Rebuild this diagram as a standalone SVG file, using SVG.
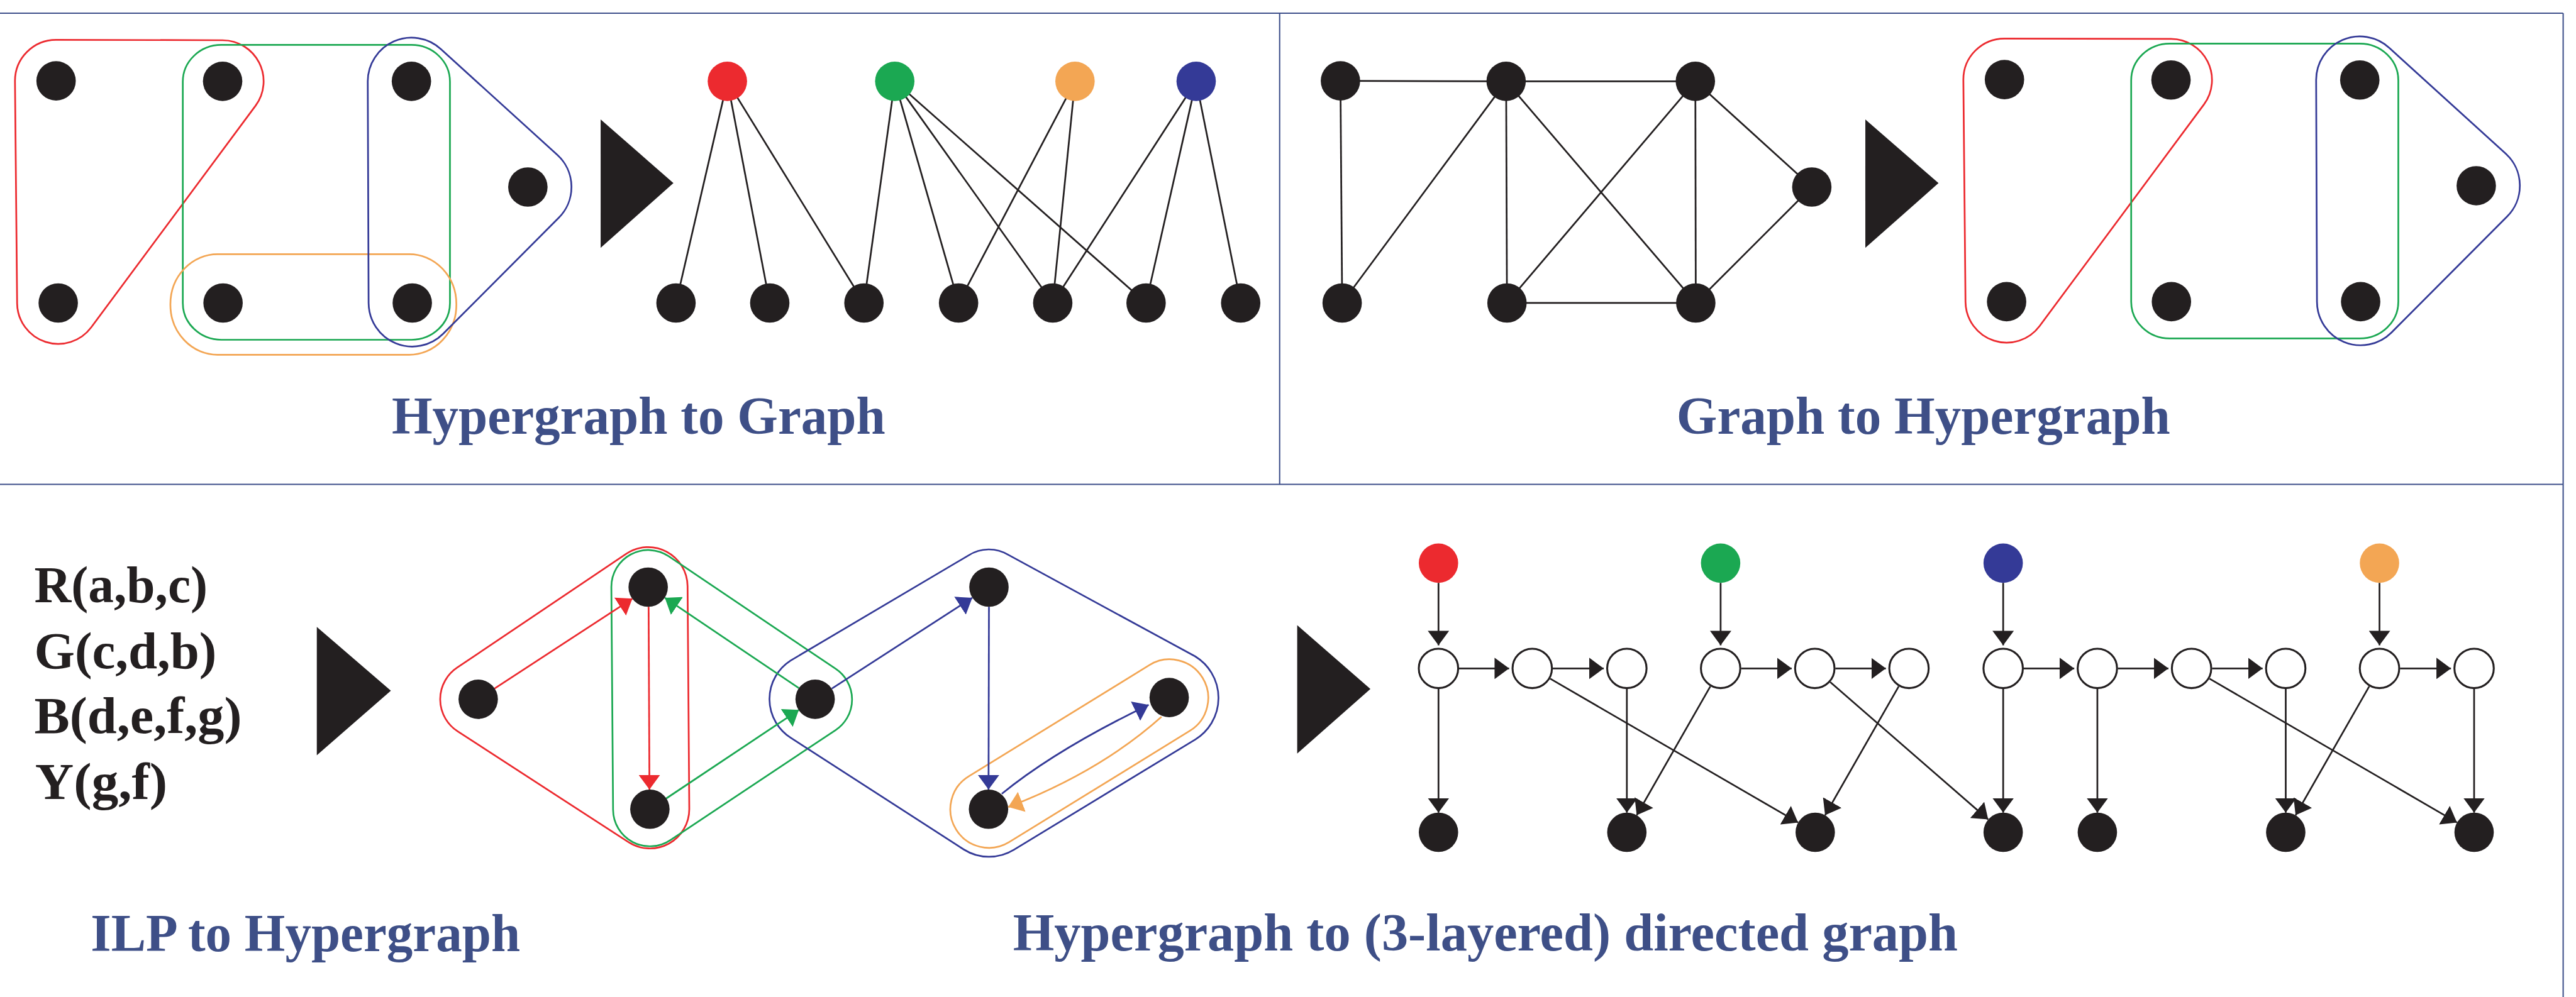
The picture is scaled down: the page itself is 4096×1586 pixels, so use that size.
<svg xmlns="http://www.w3.org/2000/svg" width="4096" height="1586" viewBox="0 0 4096 1586">
  <style>
    .frame { fill: none; stroke: #3d4f8a; stroke-width: 3; }
    .dot { fill: #231f20; }
    .hollow { fill: #ffffff; stroke: #231f20; stroke-width: 4.5; }
    .edge { fill: none; stroke: #231f20; stroke-width: 4; }
    .hull { fill: none; stroke-width: 4; }
    .red { stroke: #ec2a2f; }
    .green { stroke: #1ba852; }
    .blue { stroke: #343a97; }
    .orange { stroke: #f3a654; }
    .fred { fill: #ec2a2f; }
    .fgreen { fill: #1ba852; }
    .fblue { fill: #343a97; }
    .forange { fill: #f3a654; }
    .big { fill: #231f20; }
    .title { font-family: "Liberation Serif", "Times New Roman", serif; font-weight: bold; font-size: 125px; fill: #3e4f87; }
    .ilp { font-family: "Liberation Serif", "Times New Roman", serif; font-weight: bold; font-size: 120px; fill: #231f20; }
    .ah { fill: none; }
  </style>
  <defs>
    <marker id="ah-k" viewBox="0 0 34 50" refX="34" refY="25" markerWidth="34" markerHeight="50" markerUnits="userSpaceOnUse" orient="auto"><path d="M0,0 L34,25 L0,50 Z" fill="#231f20"/></marker>
    <marker id="ah-r" viewBox="0 0 34 50" refX="34" refY="25" markerWidth="34" markerHeight="50" markerUnits="userSpaceOnUse" orient="auto"><path d="M0,0 L34,25 L0,50 Z" fill="#ec2a2f"/></marker>
    <marker id="ah-g" viewBox="0 0 34 50" refX="34" refY="25" markerWidth="34" markerHeight="50" markerUnits="userSpaceOnUse" orient="auto"><path d="M0,0 L34,25 L0,50 Z" fill="#1ba852"/></marker>
    <marker id="ah-b" viewBox="0 0 34 50" refX="34" refY="25" markerWidth="34" markerHeight="50" markerUnits="userSpaceOnUse" orient="auto"><path d="M0,0 L34,25 L0,50 Z" fill="#343a97"/></marker>
    <marker id="ah-o" viewBox="0 0 34 50" refX="34" refY="25" markerWidth="34" markerHeight="50" markerUnits="userSpaceOnUse" orient="auto"><path d="M0,0 L34,25 L0,50 Z" fill="#f3a654"/></marker>
  </defs>
  <rect x="0" y="0" width="4096" height="1586" fill="#ffffff"/>
  <g transform="scale(0.680738)">
    <!-- panel frame -->
    <g id="frame" class="frame">
      <line x1="0" y1="31" x2="5987" y2="31"/>
      <line x1="0" y1="1132" x2="5987" y2="1132"/>
      <line x1="2989" y1="31" x2="2989" y2="1132"/>
      <line x1="5987" y1="31" x2="5987" y2="2330"/>
    </g>

    <!-- transformation arrows -->
    <g id="transform-arrows">
      <polygon class="big" points="1403,279 1573,428 1403,579"/>
      <polygon class="big" points="4357,279 4528,428 4357,579"/>
      <polygon class="big" points="740,1465 913,1614 740,1765"/>
      <polygon class="big" points="3030,1461 3201,1610 3030,1761"/>
    </g>

    <!-- ===== Hypergraph (top left) ===== -->
    <g id="hg1-edges">
      <path class="hull red" d="M35,190 A96,96 0 0 1 131,93 L520,94 A96,96 0 0 1 597,247 L213,765 A96,96 0 0 1 40,709 Z"/>
      <rect class="hull green" x="427" y="105" width="624" height="689" rx="90" ry="86"/>
      <rect class="hull orange" x="398" y="594" width="668" height="235" rx="110" ry="117"/>
      <path class="hull blue" d="M859,190 A102,102 0 0 1 1030,115 L1302,362 A102,102 0 0 1 1305,509 L1035,780 A102,102 0 0 1 861,708 Z"/>
    </g>
    <g id="hg1-A"><circle class="dot" cx="131" cy="189" r="46"/></g>
    <g id="hg1-B"><circle class="dot" cx="520" cy="190" r="46"/></g>
    <g id="hg1-C"><circle class="dot" cx="961" cy="190" r="46"/></g>
    <g id="hg1-D"><circle class="dot" cx="1233" cy="437" r="46"/></g>
    <g id="hg1-E"><circle class="dot" cx="136" cy="708" r="46"/></g>
    <g id="hg1-F"><circle class="dot" cx="521" cy="708" r="46"/></g>
    <g id="hg1-G"><circle class="dot" cx="963" cy="708" r="46"/></g>

    <!-- ===== Bipartite graph ===== -->
    <g id="bip-edges" class="edge">
      <line x1="1699" y1="190" x2="1579" y2="708"/>
      <line x1="1699" y1="190" x2="1798" y2="708"/>
      <line x1="1699" y1="190" x2="2018" y2="708"/>
      <line x1="2090" y1="190" x2="2018" y2="708"/>
      <line x1="2090" y1="190" x2="2239" y2="708"/>
      <line x1="2090" y1="190" x2="2459" y2="708"/>
      <line x1="2090" y1="190" x2="2677" y2="708"/>
      <line x1="2511" y1="190" x2="2239" y2="708"/>
      <line x1="2511" y1="190" x2="2459" y2="708"/>
      <line x1="2794" y1="190" x2="2459" y2="708"/>
      <line x1="2794" y1="190" x2="2677" y2="708"/>
      <line x1="2794" y1="190" x2="2898" y2="708"/>
    </g>
    <g id="bip-red"><circle class="fred" cx="1699" cy="190" r="46"/></g>
    <g id="bip-green"><circle class="fgreen" cx="2090" cy="190" r="46"/></g>
    <g id="bip-orange"><circle class="forange" cx="2511" cy="190" r="46"/></g>
    <g id="bip-blue"><circle class="fblue" cx="2794" cy="190" r="46"/></g>
    <g id="bip-1"><circle class="dot" cx="1579" cy="708" r="46"/></g>
    <g id="bip-2"><circle class="dot" cx="1798" cy="708" r="46"/></g>
    <g id="bip-3"><circle class="dot" cx="2018" cy="708" r="46"/></g>
    <g id="bip-4"><circle class="dot" cx="2239" cy="708" r="46"/></g>
    <g id="bip-5"><circle class="dot" cx="2459" cy="708" r="46"/></g>
    <g id="bip-6"><circle class="dot" cx="2677" cy="708" r="46"/></g>
    <g id="bip-7"><circle class="dot" cx="2898" cy="708" r="46"/></g>

    <text class="title" x="915" y="1014" textLength="1153" lengthAdjust="spacingAndGlyphs">Hypergraph to Graph</text>

    <!-- ===== Graph (top right) ===== -->
    <g id="gr-edges" class="edge">
      <line x1="3131" y1="189" x2="3518" y2="190"/>
      <line x1="3518" y1="190" x2="3960" y2="190"/>
      <line x1="3131" y1="189" x2="3135" y2="708"/>
      <line x1="3135" y1="708" x2="3518" y2="190"/>
      <line x1="3518" y1="190" x2="3520" y2="708"/>
      <line x1="3518" y1="190" x2="3961" y2="708"/>
      <line x1="3960" y1="190" x2="3520" y2="708"/>
      <line x1="3960" y1="190" x2="3961" y2="708"/>
      <line x1="3960" y1="190" x2="4232" y2="437"/>
      <line x1="4232" y1="437" x2="3961" y2="708"/>
      <line x1="3520" y1="708" x2="3961" y2="708"/>
    </g>
    <g id="gr-a"><circle class="dot" cx="3131" cy="189" r="46"/></g>
    <g id="gr-b"><circle class="dot" cx="3518" cy="190" r="46"/></g>
    <g id="gr-c"><circle class="dot" cx="3960" cy="190" r="46"/></g>
    <g id="gr-d"><circle class="dot" cx="4232" cy="437" r="46"/></g>
    <g id="gr-e"><circle class="dot" cx="3135" cy="708" r="46"/></g>
    <g id="gr-f"><circle class="dot" cx="3520" cy="708" r="46"/></g>
    <g id="gr-g"><circle class="dot" cx="3961" cy="708" r="46"/></g>

    <!-- ===== Hypergraph (top right) ===== -->
    <g transform="translate(4551,-3)">
      <g id="hg2-edges">
        <path class="hull red" d="M35,190 A96,96 0 0 1 131,93 L520,94 A96,96 0 0 1 597,247 L213,765 A96,96 0 0 1 40,709 Z"/>
        <rect class="hull green" x="427" y="105" width="624" height="689" rx="90" ry="86"/>
        <path class="hull blue" d="M859,190 A102,102 0 0 1 1030,115 L1302,362 A102,102 0 0 1 1305,509 L1035,780 A102,102 0 0 1 861,708 Z"/>
      </g>
      <g id="hg2-A"><circle class="dot" cx="131" cy="189" r="46"/></g>
      <g id="hg2-B"><circle class="dot" cx="520" cy="190" r="46"/></g>
      <g id="hg2-C"><circle class="dot" cx="961" cy="190" r="46"/></g>
      <g id="hg2-D"><circle class="dot" cx="1233" cy="437" r="46"/></g>
      <g id="hg2-E"><circle class="dot" cx="136" cy="708" r="46"/></g>
      <g id="hg2-F"><circle class="dot" cx="521" cy="708" r="46"/></g>
      <g id="hg2-G"><circle class="dot" cx="963" cy="708" r="46"/></g>
    </g>

    <text class="title" x="3916" y="1014" textLength="1153" lengthAdjust="spacingAndGlyphs">Graph to Hypergraph</text>

    <!-- ===== ILP constraints ===== -->
    <g id="ilp">
      <text class="ilp" x="80" y="1407" textLength="405" lengthAdjust="spacingAndGlyphs">R(a,b,c)</text>
      <text class="ilp" x="80" y="1561" textLength="426" lengthAdjust="spacingAndGlyphs">G(c,d,b)</text>
      <text class="ilp" x="80" y="1713" textLength="485" lengthAdjust="spacingAndGlyphs">B(d,e,f,g)</text>
      <text class="ilp" x="82" y="1867" textLength="309" lengthAdjust="spacingAndGlyphs">Y(g,f)</text>
    </g>

    <!-- ===== Directed hypergraph ===== -->
    <g id="dh-hulls">
      <path class="hull red" d="M1068,1560 L1463,1294 A92,92 0 0 1 1606,1370 L1610,1890 A92,92 0 0 1 1468,1968 L1069,1709 A89,89 0 0 1 1068,1560 Z"/>
      <path class="hull green" d="M1428,1372 A86,86 0 0 1 1562,1300 L1952,1563 A86,86 0 0 1 1952,1706 L1566,1963 A86,86 0 0 1 1432,1892 Z"/>
      <path class="hull blue" d="M2262,1298 A88,88 0 0 1 2356,1297 L2792,1534 A114,114 0 0 1 2792,1728 L2368,1986 A111,111 0 0 1 2251,1985 L1847,1724 A107,107 0 0 1 1846,1544 Z"/>
      <path class="hull orange" d="M2263,1814 L2685,1554 A90,90 0 0 1 2779,1708 L2357,1968 A90,90 0 0 1 2263,1814 Z"/>
    </g>
    <g id="dh-edges">
      <path class="edge red" marker-end="url(#ah-r)" d="M1155,1609 L1477,1399"/>
      <path class="edge red" marker-end="url(#ah-r)" d="M1515,1418 L1517,1845"/>
      <path class="edge green" marker-end="url(#ah-g)" d="M1556,1866 L1866,1659"/>
      <path class="edge green" marker-end="url(#ah-g)" d="M1866,1608 L1553,1397"/>
      <path class="edge blue" marker-end="url(#ah-b)" d="M1943,1609 L2271,1397"/>
      <path class="edge blue" marker-end="url(#ah-b)" d="M2310,1418 L2309,1845"/>
      <path class="edge blue" marker-end="url(#ah-b)" d="M2340,1855 Q2466,1752 2683,1647"/>
      <path class="edge orange" marker-end="url(#ah-o)" d="M2713,1675 Q2570,1803 2355,1886"/>
    </g>
    <g id="dh-a"><circle class="dot" cx="1117" cy="1634" r="46"/></g>
    <g id="dh-b"><circle class="dot" cx="1514" cy="1372" r="46"/></g>
    <g id="dh-c"><circle class="dot" cx="1518" cy="1891" r="46"/></g>
    <g id="dh-d"><circle class="dot" cx="1904" cy="1634" r="46"/></g>
    <g id="dh-e"><circle class="dot" cx="2310" cy="1372" r="46"/></g>
    <g id="dh-f"><circle class="dot" cx="2309" cy="1891" r="46"/></g>
    <g id="dh-g"><circle class="dot" cx="2731" cy="1630" r="46"/></g>

    <text class="title" x="212" y="2222" textLength="1003" lengthAdjust="spacingAndGlyphs">ILP to Hypergraph</text>

    <!-- ===== 3-layered directed graph ===== -->
    <g id="lg-edges" class="edge" marker-end="url(#ah-k)">
      <!-- hyperedge to first occurrence -->
      <line x1="3360" y1="1362" x2="3360" y2="1508"/>
      <line x1="4019" y1="1362" x2="4019" y2="1508"/>
      <line x1="4679" y1="1362" x2="4679" y2="1508"/>
      <line x1="5558" y1="1362" x2="5558" y2="1508"/>
      <!-- occurrence chains -->
      <line x1="3408" y1="1562" x2="3525" y2="1562"/>
      <line x1="3627" y1="1562" x2="3746" y2="1562"/>
      <line x1="4067" y1="1562" x2="4185" y2="1562"/>
      <line x1="4287" y1="1562" x2="4405" y2="1562"/>
      <line x1="4727" y1="1562" x2="4845" y2="1562"/>
      <line x1="4947" y1="1562" x2="5065" y2="1562"/>
      <line x1="5167" y1="1562" x2="5285" y2="1562"/>
      <line x1="5606" y1="1562" x2="5725" y2="1562"/>
      <!-- occurrence to variable -->
      <line x1="3360" y1="1610" x2="3360" y2="1899"/>
      <line x1="3800" y1="1610" x2="3800" y2="1899"/>
      <line x1="4679" y1="1610" x2="4679" y2="1899"/>
      <line x1="4899" y1="1610" x2="4899" y2="1899"/>
      <line x1="5339" y1="1610" x2="5339" y2="1899"/>
      <line x1="5779" y1="1610" x2="5779" y2="1899"/>
      <line x1="3621" y1="1586" x2="4200" y2="1922"/>
      <line x1="3995" y1="1604" x2="3823" y2="1905"/>
      <line x1="4275" y1="1594" x2="4644" y2="1915"/>
      <line x1="4435" y1="1604" x2="4263" y2="1905"/>
      <line x1="5161" y1="1586" x2="5739" y2="1922"/>
      <line x1="5534" y1="1604" x2="5362" y2="1905"/>
    </g>
    <g id="lg-top-red"><circle class="fred" cx="3360" cy="1316" r="46"/></g>
    <g id="lg-top-green"><circle class="fgreen" cx="4019" cy="1316" r="46"/></g>
    <g id="lg-top-blue"><circle class="fblue" cx="4679" cy="1316" r="46"/></g>
    <g id="lg-top-orange"><circle class="forange" cx="5558" cy="1316" r="46"/></g>
    <g id="lg-mid-1"><circle class="hollow" cx="3360" cy="1562" r="46"/></g>
    <g id="lg-mid-2"><circle class="hollow" cx="3579" cy="1562" r="46"/></g>
    <g id="lg-mid-3"><circle class="hollow" cx="3800" cy="1562" r="46"/></g>
    <g id="lg-mid-4"><circle class="hollow" cx="4019" cy="1562" r="46"/></g>
    <g id="lg-mid-5"><circle class="hollow" cx="4239" cy="1562" r="46"/></g>
    <g id="lg-mid-6"><circle class="hollow" cx="4459" cy="1562" r="46"/></g>
    <g id="lg-mid-7"><circle class="hollow" cx="4679" cy="1562" r="46"/></g>
    <g id="lg-mid-8"><circle class="hollow" cx="4899" cy="1562" r="46"/></g>
    <g id="lg-mid-9"><circle class="hollow" cx="5119" cy="1562" r="46"/></g>
    <g id="lg-mid-10"><circle class="hollow" cx="5339" cy="1562" r="46"/></g>
    <g id="lg-mid-11"><circle class="hollow" cx="5558" cy="1562" r="46"/></g>
    <g id="lg-mid-12"><circle class="hollow" cx="5779" cy="1562" r="46"/></g>
    <g id="lg-var-a"><circle class="dot" cx="3360" cy="1945" r="46"/></g>
    <g id="lg-var-c"><circle class="dot" cx="3800" cy="1945" r="46"/></g>
    <g id="lg-var-b"><circle class="dot" cx="4240" cy="1945" r="46"/></g>
    <g id="lg-var-d"><circle class="dot" cx="4679" cy="1945" r="46"/></g>
    <g id="lg-var-e"><circle class="dot" cx="4899" cy="1945" r="46"/></g>
    <g id="lg-var-g"><circle class="dot" cx="5339" cy="1945" r="46"/></g>
    <g id="lg-var-f"><circle class="dot" cx="5779" cy="1945" r="46"/></g>

    <text class="title" x="2366" y="2221" textLength="2207" lengthAdjust="spacingAndGlyphs">Hypergraph to (3-layered) directed graph</text>
  </g>
</svg>
